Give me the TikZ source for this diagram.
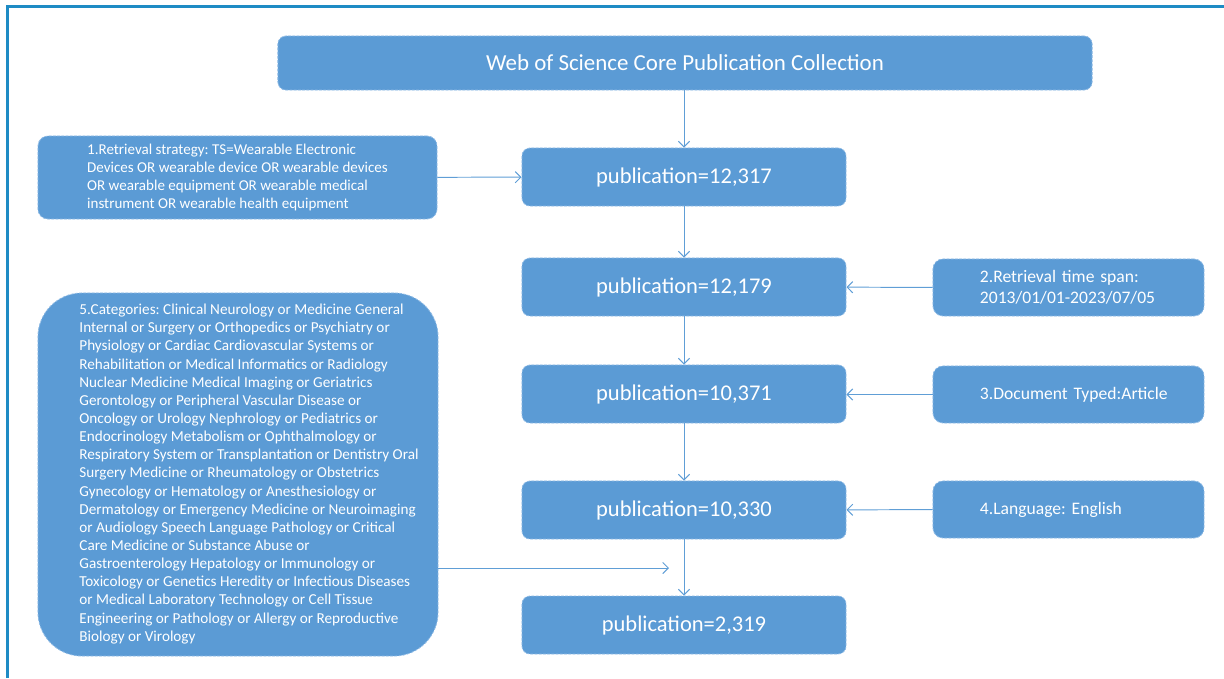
\documentclass[tikz,border=0pt]{standalone}
\usepackage{fontspec}
\setmainfont{Carlito}
\usetikzlibrary{arrows.meta,positioning}
\frenchspacing

\definecolor{boxblue}{RGB}{91,155,213}
\definecolor{edgeblue}{RGB}{140,185,228}
\definecolor{lineblue}{RGB}{96,158,214}
\definecolor{framblue}{RGB}{30,139,196}

\begin{document}
\begin{tikzpicture}[x=0.025cm,y=-0.025cm,
    pubbox/.style={fill=boxblue, draw=edgeblue, dash pattern=on 2pt off 1pt, line width=0.6pt,
        rounded corners=0.2cm, minimum width=8.1cm, minimum height=1.45cm,
        text=white, font=\fontsize{16}{19}\selectfont, inner sep=0pt},
    sidebox/.style={fill=boxblue, draw=edgeblue, dash pattern=on 2pt off 1pt, line width=0.6pt,
        rounded corners=0.25cm, minimum width=6.775cm, minimum height=1.425cm,
        text=white, font=\fontsize{12.5}{15}\selectfont, align=left, text width=4.425cm, inner sep=0pt},
    boxtext/.style={text=white, align=left, inner sep=0pt},
    link/.style={draw=lineblue, line width=0.7pt, -{Straight Barb[length=4pt,width=8pt]}}]

    \useasboundingbox (0,0) rectangle (1224,678);

    % Draw frame
    \draw[framblue, line width=2pt] (7.5,678) -- (7.5,6.5) -- (1224,6.5);

    % Draw main chain
    \node[pubbox, minimum width=20.35cm, minimum height=1.35cm, font=\fontsize{16.3}{19}\selectfont] (wos) at (685,63) {Web of Science Core Publication Collection};
    \node[pubbox] (p1) at (684,177) {publication=12,317};
    \node[pubbox] (p2) at (684,287) {publication=12,179};
    \node[pubbox] (p3) at (684,394) {publication=10,371};
    \node[pubbox] (p4) at (684,510) {publication=10,330};
    \node[pubbox] (p5) at (684,625) {publication=2,319};

    % Draw criteria boxes
    \node[sidebox, minimum width=9.975cm, minimum height=2.075cm, text width=, font=\fontsize{10.7}{12.8}\selectfont] (strategy) at (237.5,177.5)
        {1.Retrieval strategy: TS=Wearable Electronic\\
         Devices OR wearable device OR wearable devices\\
         OR wearable equipment OR wearable medical\\
         instrument OR wearable health equipment};
    \node[sidebox] (span) at (1068.5,287.5) {2.Retrieval time span:\\\mbox{2013/01/01-2023/07/05}};
    \node[sidebox] (doctype) at (1068.5,394.5) {\mbox{3.Document Typed:Article}};
    \node[sidebox] (lang) at (1068.5,509.5) {4.Language: English};
    \node[sidebox, rounded corners=1.1cm, minimum width=10cm, minimum height=9.075cm] (categ) at (238,474.5) {};
    \node[boxtext, font=\fontsize{10.8}{12.9}\selectfont] (categtext) at (249,474)
        {5.Categories: Clinical Neurology or Medicine General\\
         Internal or Surgery or Orthopedics or Psychiatry or\\
         Physiology or Cardiac Cardiovascular Systems or\\
         Rehabilitation or Medical Informatics or Radiology\\
         Nuclear Medicine Medical Imaging or Geriatrics\\
         Gerontology or Peripheral Vascular Disease or\\
         Oncology or Urology Nephrology or Pediatrics or\\
         Endocrinology Metabolism or Ophthalmology or\\
         Respiratory System or Transplantation or Dentistry Oral\\
         Surgery Medicine or Rheumatology or Obstetrics\\
         Gynecology or Hematology or Anesthesiology or\\
         Dermatology or Emergency Medicine or Neuroimaging\\
         or Audiology Speech Language Pathology or Critical\\
         Care Medicine or Substance Abuse or\\
         Gastroenterology Hepatology or Immunology or\\
         Toxicology or Genetics Heredity or Infectious Diseases\\
         or Medical Laboratory Technology or Cell Tissue\\
         Engineering or Pathology or Allergy or Reproductive\\
         Biology or Virology};

    % Draw connectors
    \draw[link] (wos.south -| p1.north) -- (p1.north);
    \draw[link] (p1) -- (p2);
    \draw[link] (p2) -- (p3);
    \draw[link] (p3) -- (p4);
    \draw[link] (p4) -- (p5);
    \draw[link] (strategy) -- (p1);
    \draw[link] (span) -- (p2);
    \draw[link] (doctype.west) -- (doctype.west -| p3.east);
    \draw[link] (lang) -- (p4);
    \coordinate (catend) at (669,568);
    \draw[link] (categ.east |- catend) -- (catend);
\end{tikzpicture}
\end{document}
